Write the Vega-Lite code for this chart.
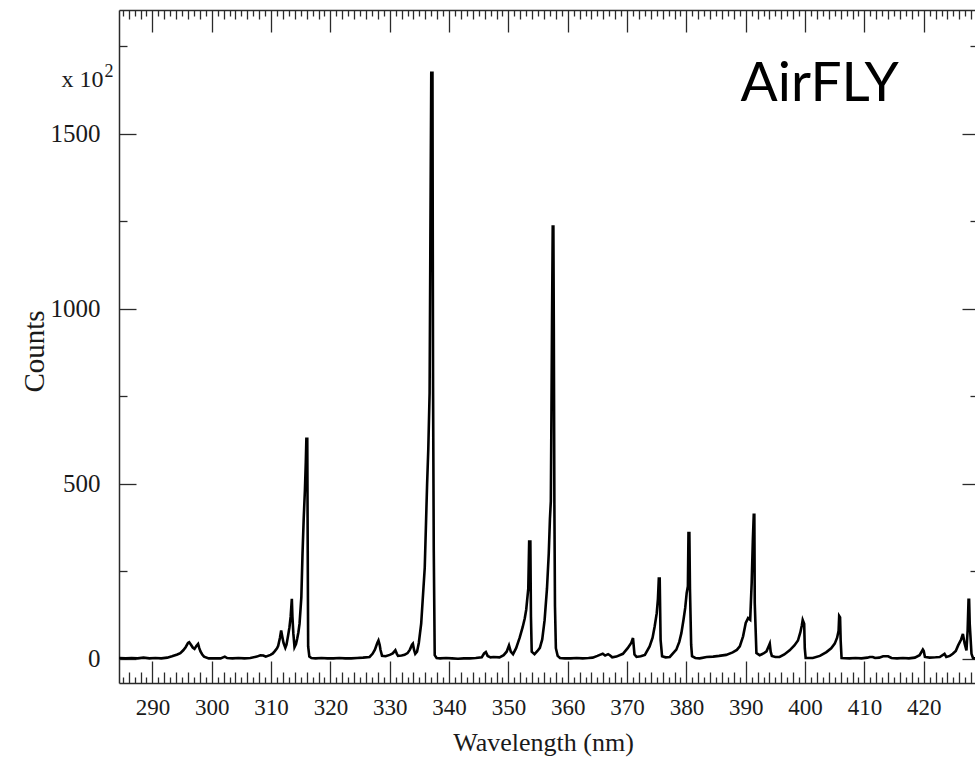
{
  "$schema": "https://vega.github.io/schema/vega-lite/v6.json",
  "autosize": {"type": "none"},
  "padding": {"left": 119, "top": 10, "right": 0, "bottom": 82},
  "width": 856,
  "height": 673,
  "background": "white",
  "config": {
    "view": {"stroke": null},
    "axis": {
      "labelFont": "Liberation Serif",
      "titleFont": "Liberation Serif",
      "titleFontWeight": "normal",
      "labelColor": "#1a1a1a",
      "titleColor": "#1a1a1a",
      "tickColor": "#2a2a2a",
      "domainColor": "#2a2a2a",
      "tickWidth": 1.3,
      "domainWidth": 1.5,
      "grid": false,
      "labelFlush": false,
      "labelOverlap": false
    }
  },
  "data": {"values": [
    {"wl":284.4,"c":2},{"wl":285.5,"c":1},{"wl":286.5,"c":2},{"wl":287.5,"c":1},{"wl":288.5,"c":3},{"wl":289.5,"c":1},{"wl":290.5,"c":2},{"wl":291.5,"c":1},{"wl":292.5,"c":3},
    {"wl":293.3,"c":7},{"wl":294.2,"c":12},{"wl":294.7,"c":16},{"wl":295.2,"c":24},{"wl":295.6,"c":33},{"wl":296.0,"c":45},{"wl":296.2,"c":47},{"wl":296.5,"c":40},{"wl":296.8,"c":32},{"wl":297.1,"c":28},{"wl":297.4,"c":36},{"wl":297.7,"c":42},{"wl":297.9,"c":30},{"wl":298.1,"c":21},{"wl":298.4,"c":12},{"wl":298.7,"c":6},
    {"wl":299.5,"c":1},{"wl":300.5,"c":1},{"wl":301.5,"c":1},{"wl":302.2,"c":6},{"wl":302.6,"c":2},{"wl":303.5,"c":1},{"wl":304.5,"c":2},{"wl":305.5,"c":1},{"wl":306.5,"c":2},
    {"wl":307.6,"c":6},{"wl":308.2,"c":10},{"wl":308.7,"c":9},{"wl":309.1,"c":6},{"wl":309.9,"c":11},{"wl":310.3,"c":15},{"wl":310.6,"c":21},{"wl":311.0,"c":30},{"wl":311.2,"c":37},{"wl":311.5,"c":60},{"wl":311.7,"c":81},{"wl":311.9,"c":62},{"wl":312.1,"c":45},{"wl":312.4,"c":31},{"wl":312.6,"c":40},{"wl":312.85,"c":64},{"wl":313.1,"c":90},{"wl":313.3,"c":120},{"wl":313.5,"c":171},{"wl":313.6,"c":120},{"wl":313.75,"c":73},{"wl":313.95,"c":33},{"wl":314.2,"c":42},{"wl":314.4,"c":57},{"wl":314.6,"c":75},{"wl":314.8,"c":100},{"wl":315.1,"c":175},{"wl":315.3,"c":300},{"wl":315.5,"c":400},{"wl":315.7,"c":480},{"wl":315.85,"c":560},{"wl":315.95,"c":628},{"wl":316.1,"c":628},{"wl":316.18,"c":300},{"wl":316.25,"c":35},{"wl":316.45,"c":6},{"wl":316.8,"c":2},
    {"wl":317.5,"c":1},{"wl":318.5,"c":2},{"wl":319.5,"c":1},{"wl":320.5,"c":1},{"wl":321.5,"c":2},{"wl":322.5,"c":1},{"wl":323.5,"c":1},{"wl":324.5,"c":2},{"wl":325.5,"c":3},{"wl":326.6,"c":5},
    {"wl":327.1,"c":14},{"wl":327.5,"c":26},{"wl":327.9,"c":45},{"wl":328.1,"c":52},{"wl":328.3,"c":40},{"wl":328.45,"c":25},{"wl":328.7,"c":8},{"wl":329.3,"c":7},{"wl":330.0,"c":11},{"wl":330.5,"c":15},{"wl":330.95,"c":24},{"wl":331.2,"c":14},{"wl":331.4,"c":8},{"wl":332.0,"c":9},{"wl":332.5,"c":11},{"wl":333.0,"c":16},{"wl":333.4,"c":26},{"wl":333.75,"c":40},{"wl":333.9,"c":43},{"wl":334.1,"c":25},{"wl":334.3,"c":14},{"wl":334.6,"c":20},{"wl":334.9,"c":45},
    {"wl":335.3,"c":100},{"wl":335.6,"c":180},{"wl":335.9,"c":260},{"wl":336.1,"c":380},{"wl":336.3,"c":500},{"wl":336.5,"c":600},{"wl":336.72,"c":760},{"wl":336.85,"c":1200},{"wl":337.0,"c":1674},{"wl":337.2,"c":1674},{"wl":337.3,"c":780},{"wl":337.42,"c":310},{"wl":337.58,"c":10},{"wl":337.9,"c":2},
    {"wl":338.5,"c":1},{"wl":339.5,"c":2},{"wl":340.5,"c":1},{"wl":341.5,"c":0},{"wl":342.5,"c":1},{"wl":343.5,"c":1},{"wl":344.5,"c":2},{"wl":345.5,"c":4},{"wl":345.9,"c":15},{"wl":346.2,"c":19},{"wl":346.5,"c":8},{"wl":347.0,"c":4},{"wl":347.5,"c":5},{"wl":348.5,"c":4},{"wl":349.2,"c":10},{"wl":349.7,"c":20},{"wl":350.1,"c":38},{"wl":350.4,"c":20},{"wl":350.78,"c":13},
    {"wl":351.3,"c":30},{"wl":351.9,"c":60},{"wl":352.4,"c":90},{"wl":352.75,"c":115},{"wl":353.0,"c":140},{"wl":353.35,"c":200},{"wl":353.5,"c":335},{"wl":353.7,"c":335},{"wl":353.8,"c":120},{"wl":353.93,"c":20},{"wl":354.4,"c":13},{"wl":354.9,"c":22},{"wl":355.3,"c":31},{"wl":355.7,"c":55},{"wl":356.1,"c":110},{"wl":356.5,"c":200},{"wl":356.8,"c":300},{"wl":357.0,"c":400},{"wl":357.15,"c":450},{"wl":357.25,"c":690},{"wl":357.35,"c":960},{"wl":357.47,"c":1235},{"wl":357.58,"c":1235},{"wl":357.65,"c":955},{"wl":357.75,"c":440},{"wl":357.85,"c":150},{"wl":358.0,"c":30},{"wl":358.3,"c":8},{"wl":358.7,"c":2},
    {"wl":359.5,"c":1},{"wl":360.5,"c":1},{"wl":361.5,"c":2},{"wl":362.5,"c":1},{"wl":363.5,"c":2},{"wl":364.2,"c":3},{"wl":365.0,"c":8},{"wl":365.4,"c":11},{"wl":365.9,"c":14},{"wl":366.3,"c":9},{"wl":366.8,"c":13},{"wl":367.1,"c":10},{"wl":367.5,"c":4},{"wl":368.2,"c":6},{"wl":369.3,"c":14},{"wl":370.1,"c":30},{"wl":370.7,"c":45},{"wl":371.0,"c":59},{"wl":371.1,"c":40},{"wl":371.25,"c":12},{"wl":371.6,"c":5},{"wl":372.3,"c":7},
    {"wl":373.0,"c":11},{"wl":373.8,"c":35},{"wl":374.3,"c":60},{"wl":374.65,"c":92},{"wl":375.0,"c":130},{"wl":375.2,"c":170},{"wl":375.35,"c":229},{"wl":375.5,"c":229},{"wl":375.65,"c":54},{"wl":375.9,"c":7},{"wl":376.5,"c":4},{"wl":377.2,"c":5},{"wl":378.3,"c":26},{"wl":378.8,"c":48},{"wl":379.15,"c":73},{"wl":379.5,"c":110},{"wl":379.8,"c":145},{"wl":380.05,"c":188},{"wl":380.25,"c":207},{"wl":380.35,"c":359},{"wl":380.5,"c":359},{"wl":380.6,"c":200},{"wl":380.8,"c":40},{"wl":380.95,"c":7},{"wl":381.5,"c":2},{"wl":382.25,"c":1},
    {"wl":383.4,"c":5},{"wl":384.5,"c":6},{"wl":385.5,"c":8},{"wl":386.7,"c":11},{"wl":387.8,"c":18},{"wl":388.5,"c":25},{"wl":389.0,"c":35},{"wl":389.55,"c":64},{"wl":390.0,"c":102},{"wl":390.4,"c":116},{"wl":390.75,"c":111},{"wl":391.0,"c":216},{"wl":391.2,"c":340},{"wl":391.35,"c":411},{"wl":391.45,"c":411},{"wl":391.52,"c":159},{"wl":391.8,"c":16},{"wl":392.35,"c":10},{"wl":393.0,"c":15},{"wl":393.5,"c":21},{"wl":393.85,"c":35},{"wl":394.05,"c":43},{"wl":394.2,"c":20},{"wl":394.4,"c":8},{"wl":395.0,"c":5},{"wl":395.7,"c":5},
    {"wl":396.5,"c":12},{"wl":397.4,"c":24},{"wl":398.2,"c":38},{"wl":398.8,"c":52},{"wl":399.2,"c":75},{"wl":399.45,"c":95},{"wl":399.6,"c":111},{"wl":399.85,"c":100},{"wl":399.95,"c":30},{"wl":400.1,"c":2},{"wl":401.3,"c":2},{"wl":402.5,"c":8},{"wl":403.6,"c":19},{"wl":404.4,"c":30},{"wl":405.0,"c":43},{"wl":405.4,"c":60},{"wl":405.65,"c":80},{"wl":405.75,"c":122},{"wl":405.9,"c":118},{"wl":406.0,"c":52},{"wl":406.15,"c":2},
    {"wl":407.5,"c":1},{"wl":408.5,"c":2},{"wl":409.5,"c":1},{"wl":410.5,"c":3},{"wl":410.9,"c":5},{"wl":411.4,"c":5},{"wl":411.8,"c":2},{"wl":412.5,"c":3},{"wl":413.15,"c":7},{"wl":414.0,"c":7},{"wl":414.55,"c":2},{"wl":415.5,"c":1},{"wl":416.5,"c":2},{"wl":417.5,"c":1},{"wl":418.5,"c":3},{"wl":419.3,"c":10},{"wl":419.85,"c":26},{"wl":420.0,"c":22},{"wl":420.2,"c":5},{"wl":421.0,"c":3},{"wl":422.0,"c":4},{"wl":422.7,"c":5},{"wl":423.5,"c":14},{"wl":423.8,"c":5},{"wl":424.4,"c":8},{"wl":424.9,"c":14},{"wl":425.4,"c":22},{"wl":425.8,"c":38},{"wl":426.3,"c":55},{"wl":426.6,"c":71},{"wl":426.9,"c":43},{"wl":427.2,"c":24},{"wl":427.4,"c":81},{"wl":427.55,"c":168},{"wl":427.65,"c":168},{"wl":427.75,"c":100},{"wl":428.05,"c":14},{"wl":428.3,"c":2},{"wl":428.64,"c":1}
  ]},
  "resolve": {"axis": {"x": "independent", "y": "independent"}},
  "layer": [
    {
      "mark": {"type": "line", "color": "#000000", "strokeWidth": 2.6, "clip": true, "strokeJoin": "miter"},
      "encoding": {
        "x": {"field": "wl", "type": "quantitative", "scale": {"domain": [284.37, 428.64], "nice": false, "zero": false},
          "axis": {"orient": "bottom", "values": [290,300,310,320,330,340,350,360,370,380,390,400,410,420], "format": "d", "tickSize": -22, "labelPadding": 35, "labelFontSize": 23, "labelBaseline": "top", "title": "Wavelength (nm)", "titleFontSize": 26, "titleX": 424, "titleY": 67.5, "titleBaseline": "alphabetic", "titleAlign": "center", "domain": true}},
        "y": {"field": "c", "type": "quantitative", "scale": {"domain": [-69.4, 1853.5], "nice": false, "zero": false},
          "axis": {"orient": "left", "values": [0,500,1000,1500], "format": "d", "tickSize": -17, "labelPadding": 36, "labelFontSize": 25, "title": "Counts", "titleFontSize": 29, "titleAngle": 270, "titleX": -85, "titleY": 341, "titleAlign": "center", "titleBaseline": "middle", "domain": true}}
      }
    },
    {
      "mark": {"type": "line", "opacity": 0},
      "encoding": {
        "x": {"field": "wl", "type": "quantitative", "scale": {"domain": [284.37, 428.64], "nice": false, "zero": false},
          "axis": {"orient": "bottom", "values": [286,288,292,294,296,298,302,304,306,308,312,314,316,318,322,324,326,328,332,334,336,338,342,344,346,348,352,354,356,358,362,364,366,368,372,374,376,378,382,384,386,388,392,394,396,398,402,404,406,408,412,414,416,418,422,424,426,428], "tickSize": -11, "labels": false, "domain": false, "title": null}},
        "y": {"field": "c", "type": "quantitative", "scale": {"domain": [-69.4, 1853.5], "nice": false, "zero": false},
          "axis": {"orient": "left", "values": [250,750,1250,1750], "tickSize": -8, "labels": false, "domain": false, "title": "x 10", "titleFontSize": 24, "titleAngle": 0, "titleX": -16, "titleY": 76, "titleAlign": "right", "titleBaseline": "alphabetic"}}
      }
    },
    {
      "mark": {"type": "line", "opacity": 0},
      "encoding": {
        "x": {"field": "wl", "type": "quantitative", "scale": {"domain": [284.37, 428.64], "nice": false, "zero": false},
          "axis": {"orient": "bottom", "values": [285,287,289,291,293,295,297,299,301,303,305,307,309,311,313,315,317,319,321,323,325,327,329,331,333,335,337,339,341,343,345,347,349,351,353,355,357,359,361,363,365,367,369,371,373,375,377,379,381,383,385,387,389,391,393,395,397,399,401,403,405,407,409,411,413,415,417,419,421,423,425,427], "tickSize": -6, "labels": false, "domain": false, "title": null}},
        "y": {"field": "c", "type": "quantitative", "scale": {"domain": [-69.4, 1853.5], "nice": false, "zero": false},
          "axis": {"orient": "right", "values": [0,500,1000,1500], "tickSize": -13, "labels": false, "domain": false, "title": null}}
      }
    },
    {
      "mark": {"type": "line", "opacity": 0},
      "encoding": {
        "x": {"field": "wl", "type": "quantitative", "scale": {"domain": [284.37, 428.64], "nice": false, "zero": false},
          "axis": {"orient": "top", "values": [290,300,310,320,330,340,350,360,370,380,390,400,410,420], "tickSize": -22, "labels": false, "domain": true, "title": null}},
        "y": {"field": "c", "type": "quantitative", "scale": {"domain": [-69.4, 1853.5], "nice": false, "zero": false},
          "axis": {"orient": "right", "values": [250,750,1250,1750], "tickSize": -5, "labels": false, "domain": false, "title": null}}
      }
    },
    {
      "mark": {"type": "line", "opacity": 0},
      "encoding": {
        "x": {"field": "wl", "type": "quantitative", "scale": {"domain": [284.37, 428.64], "nice": false, "zero": false},
          "axis": {"orient": "top", "values": [286,288,292,294,296,298,302,304,306,308,312,314,316,318,322,324,326,328,332,334,336,338,342,344,346,348,352,354,356,358,362,364,366,368,372,374,376,378,382,384,386,388,392,394,396,398,402,404,406,408,412,414,416,418,422,424,426,428], "tickSize": -9, "labels": false, "domain": false, "title": null}},
        "y": {"field": "c", "type": "quantitative", "scale": {"domain": [-69.4, 1853.5], "nice": false, "zero": false},
          "axis": {"orient": "left", "ticks": false, "labels": false, "domain": false, "values": [], "title": "2", "titleFontSize": 18, "titleAngle": 0, "titleX": -6, "titleY": 66, "titleAlign": "right", "titleBaseline": "alphabetic"}}
      }
    },
    {
      "mark": {"type": "line", "opacity": 0},
      "encoding": {
        "x": {"field": "wl", "type": "quantitative", "scale": {"domain": [284.37, 428.64], "nice": false, "zero": false},
          "axis": {"orient": "top", "values": [285,287,289,291,293,295,297,299,301,303,305,307,309,311,313,315,317,319,321,323,325,327,329,331,333,335,337,339,341,343,345,347,349,351,353,355,357,359,361,363,365,367,369,371,373,375,377,379,381,383,385,387,389,391,393,395,397,399,401,403,405,407,409,411,413,415,417,419,421,423,425,427], "tickSize": -6, "labels": false, "domain": false, "title": null}},
        "y": {"field": "c", "type": "quantitative", "scale": {"domain": [-69.4, 1853.5], "nice": false, "zero": false}, "axis": null}
      }
    },
    {
      "data": {"values": [{"label": "AirFLY"}]},
      "mark": {"type": "text", "font": "Lato", "fontSize": 55, "color": "#000000", "align": "center", "baseline": "alphabetic"},
      "encoding": {
        "x": {"datum": 402.47, "type": "quantitative", "scale": {"domain": [284.37, 428.64], "nice": false, "zero": false}, "axis": null},
        "y": {"datum": 1594, "type": "quantitative", "scale": {"domain": [-69.4, 1853.5], "nice": false, "zero": false}, "axis": null},
        "text": {"field": "label"}
      }
    }
  ]
}
